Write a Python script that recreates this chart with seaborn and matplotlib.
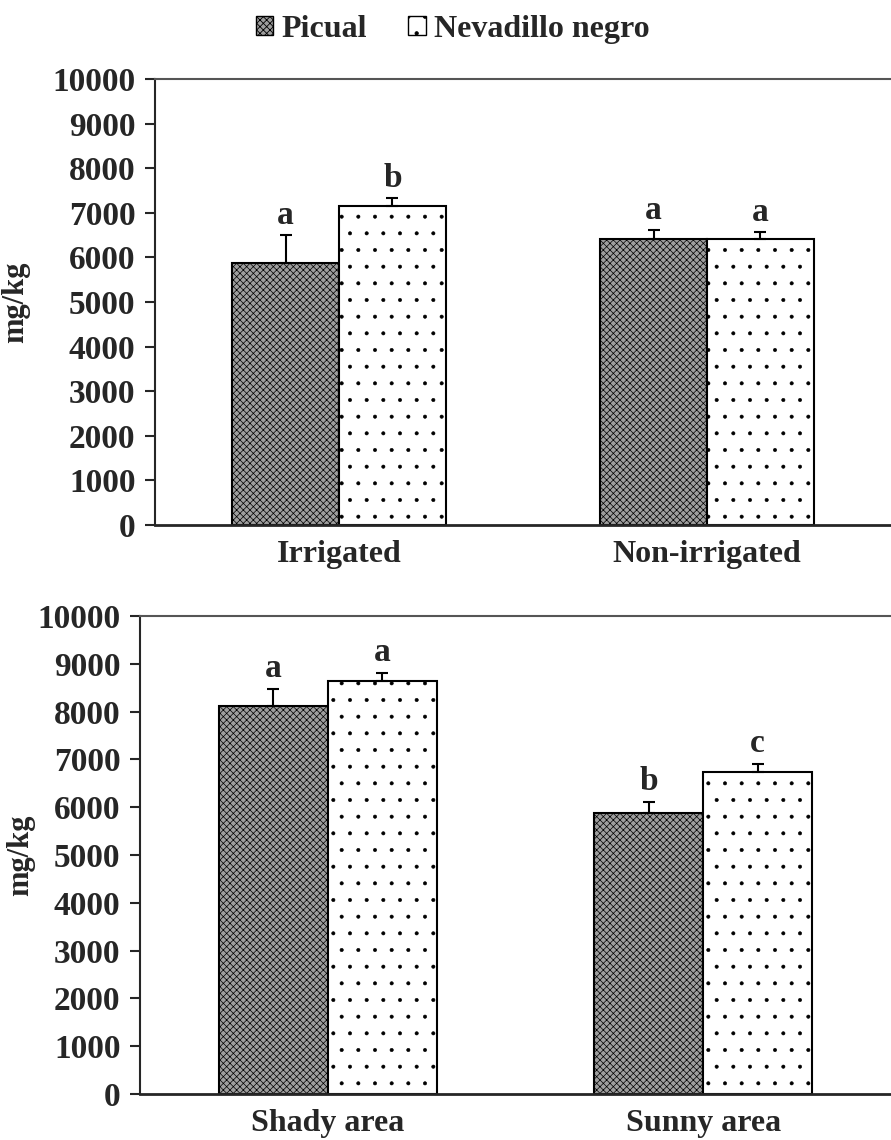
import matplotlib
matplotlib.use("Agg")
from matplotlib import pyplot as plt
from matplotlib.patches import Patch
import pandas as pd
import seaborn as sns

varieties = ["Picual", "Nevadillo negro"]

# top panel: irrigation
irr_cats = ["Irrigated", "Non-irrigated"]
irr_picual = [5870, 6410]
irr_nevadillo = [7150, 6410]
irr_picual_err = [630, 200]
irr_nevadillo_err = [180, 160]
irr_picual_letters = ["a", "a"]
irr_nevadillo_letters = ["b", "a"]

# bottom panel: sun exposure
sun_cats = ["Shady area", "Sunny area"]
sun_picual = [8120, 5880]
sun_nevadillo = [8640, 6740]
sun_picual_err = [350, 230]
sun_nevadillo_err = [170, 170]
sun_picual_letters = ["a", "b"]
sun_nevadillo_letters = ["a", "c"]

sns.set_style("white")
plt.rcParams['font.family'] = ['Liberation Serif', 'DejaVu Serif']
plt.rcParams['font.weight'] = 'bold'
plt.rcParams['hatch.linewidth'] = 0.6

fills = {"Picual": "#9e9e9e", "Nevadillo negro": "white"}
hatches = {"Picual": "xxxxx", "Nevadillo negro": "."}
hatch_lw = {"Picual": 0.5, "Nevadillo negro": 0.4}


def make_df(cats, pic, nev):
    return pd.DataFrame({
        "cat": cats * 2,
        "variety": [varieties[0]] * len(cats) + [varieties[1]] * len(cats),
        "value": pic + nev,
    })


def draw_panel(ax, cats, pic, nev, pic_err, nev_err, pic_let, nev_let):
    df = make_df(cats, pic, nev)
    sns.barplot(data=df, x="cat", y="value", hue="variety", hue_order=varieties,
                order=cats, width=0.58, palette=fills, edgecolor="black",
                linewidth=1.5, errorbar=None, legend=False, ax=ax)
    errs = [pic_err, nev_err]
    lets = [pic_let, nev_let]
    bar_groups = list(ax.containers)
    for k, cont in enumerate(bar_groups):
        v = varieties[k]
        for j, bar in enumerate(cont.patches):
            bar.set_hatch(hatches[v])
            if hasattr(bar, "set_hatch_linewidth"):
                bar.set_hatch_linewidth(hatch_lw[v])
            x = bar.get_x() + bar.get_width() / 2
            h = bar.get_height()
            ax.errorbar(x, h, yerr=[[0], [errs[k][j]]], fmt="none",
                        ecolor="black", elinewidth=1.5, capsize=4.5, capthick=1.5)
            ax.text(x, h + errs[k][j] + 100, lets[k][j], ha="center", va="bottom",
                    fontsize=24, fontweight="bold")
    ax.set_ylim(0, 10000)
    ax.set_yticks(range(0, 10001, 1000))
    ax.set_xlabel("")
    ax.set_ylabel("mg/kg", fontsize=22, fontweight="bold")
    ax.tick_params(axis="y", direction="out", length=7, width=1.5, left=True,
                   labelsize=24, pad=7)
    ax.tick_params(axis="x", length=0, labelsize=23, pad=11)
    for lab in ax.get_xticklabels() + ax.get_yticklabels():
        lab.set_fontweight("bold")
    ax.spines["right"].set_visible(False)
    ax.spines["left"].set_linewidth(1.5)
    ax.spines["bottom"].set_linewidth(2)
    ax.spines["top"].set_color("#555555")
    ax.spines["top"].set_linewidth(1.5)
    ax.set_xlim(-0.5, 1.5)


fig = plt.figure(figsize=(8.91, 11.4), dpi=100)
ax1 = fig.add_axes([0.174, 0.5395, 0.826, 0.3912])
ax2 = fig.add_axes([0.157, 0.0404, 0.843, 0.4192])

draw_panel(ax1, irr_cats, irr_picual, irr_nevadillo, irr_picual_err,
           irr_nevadillo_err, irr_picual_letters, irr_nevadillo_letters)
draw_panel(ax2, sun_cats, sun_picual, sun_nevadillo, sun_picual_err,
           sun_nevadillo_err, sun_picual_letters, sun_nevadillo_letters)
ax1.yaxis.set_label_coords(-0.17, 0.5)
ax2.yaxis.set_label_coords(-0.14, 0.5)

handles = [Patch(facecolor=fills[v], edgecolor="black", hatch=hatches[v], label=v)
           for v in varieties]
fig.legend(handles=handles, loc="center", bbox_to_anchor=(0.508, 0.974), ncol=2,
           frameon=False, handlelength=0.55, handleheight=0.55,
           handletextpad=0.25, columnspacing=1.3, prop={"weight": "bold", "size": 23})

fig.savefig("out.png", dpi=100)
